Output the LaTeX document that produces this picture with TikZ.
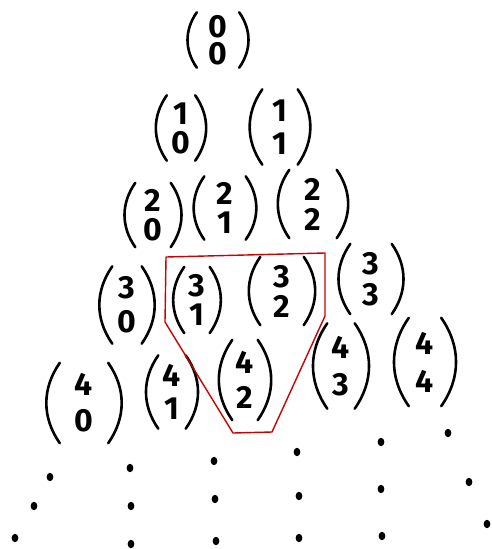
\documentclass[tikz,border=0pt]{standalone}
\usepackage{fontspec}
\setmainfont{Fira Sans}
% #1 name, #2 x, #3 y, #4 inner width, #5 height, #6 line skip, #7 top, #8 bottom
\newcommand{\bnode}[8]{%
  \node[bn, minimum width=#4pt, minimum height=#5pt,
        font=\fontsize{32}{#6}\selectfont\bfseries]
        (#1) at (#2,#3) {#7\\#8};
  \draw[paren] (#1.north west) to[bend right=35] (#1.south west);
  \draw[paren] (#1.north east) to[bend left=35] (#1.south east);}
\begin{document}
\begin{tikzpicture}[x=1pt,y=-1pt,
  bn/.style={inner sep=0pt, align=center},
  paren/.style={line width=2.6pt, line cap=round},
  dot/.style={fill=black},
  hull/.style={draw=red!80!black, line width=1.4pt, line join=round}]
\useasboundingbox (0,0) rectangle (491,549);
% row 0
\bnode{b00}{218}{40}{42}{55}{27}{0}{0}
% row 1
\bnode{b10}{181}{128}{28}{65}{29}{1}{0}
\bnode{b11}{280}{127}{35}{75}{33}{1}{1}
% row 2
\bnode{b20}{153}{215}{35}{64}{29}{2}{0}
\bnode{b21}{225}{208}{41}{63}{29}{2}{1}
\bnode{b22}{313}{204}{47}{68}{30}{2}{2}
% row 3
\bnode{b30}{127}{305}{29}{77}{34}{3}{0}
\bnode{b31}{197}{300}{25}{66}{29}{3}{1}
\bnode{b32}{282}{291}{43}{68}{30}{3}{2}
\bnode{b33}{371}{279}{41}{70}{31}{3}{3}
% row 4
\bnode{b40}{84}{403}{48}{80}{36}{4}{0}
\bnode{b41}{172}{392}{27}{73}{33}{4}{1}
\bnode{b42}{245}{380}{25}{80}{35}{4}{2}
\bnode{b43}{341}{366}{27}{85}{37}{4}{3}
\bnode{b44}{425}{362}{32}{88}{38}{4}{4}
% red outline
\draw[hull] (166,257) -- (325,253) -- (325,316) -- (272,432) -- (233,433) -- (165,322) -- cycle;
% dots
\foreach \x/\y in {50/477,130/468,214/461,297/452,381/442,448/433,
                   34/506,131/506,215/499,299/496,381/489,469/482,
                   15/538,131/544,216/541,299/538,382/536,487/524}
  \fill[dot] (\x,\y) ellipse (3.4pt and 4.2pt);
\end{tikzpicture}
\end{document}
